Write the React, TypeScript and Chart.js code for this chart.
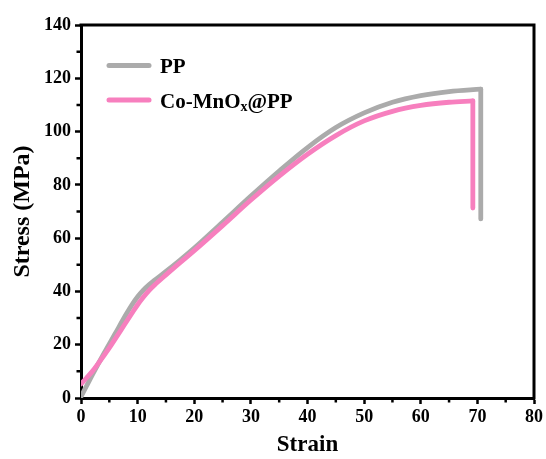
import React, { useEffect, useRef } from "react";
import { Chart, registerables } from "chart.js";

Chart.register(...registerables);

// ---- data ----
const ppStrain = [0, 1, 2, 4, 6, 8, 9, 10, 11, 12, 13, 15, 17.5, 20, 25, 30, 35, 40, 45, 50, 55, 60, 65, 70.6];
const ppStress = [0.5, 4.6, 8.7, 16.5, 24, 31.5, 35, 38, 40.5, 42.5, 44.2, 47.5, 51.8, 56.3, 66, 75.8, 85.2, 94, 101.5, 107, 111, 113.5, 115, 115.9];
const ppDropStrain = [70.6, 70.6];
const ppDropStress = [115.9, 67.2];

const coStrain = [0, 1, 2, 3, 5, 7, 9, 10, 11, 12, 13, 15, 17.5, 20, 25, 30, 35, 40, 45, 50, 55, 60, 65, 69.2];
const coStress = [5.3, 7.6, 10, 12.8, 18.8, 25.3, 31.8, 35, 37.8, 40.3, 42.4, 46.2, 50.8, 55.3, 64.7, 74.3, 83.3, 91.5, 98.5, 104, 107.6, 109.8, 111, 111.5];
const coDropStrain = [69.2, 69.2];
const coDropStress = [111.5, 71.3];

const xTicks = [0, 10, 20, 30, 40, 50, 60, 70, 80];
const yTicks = [0, 20, 40, 60, 80, 100, 120, 140];
const xMinor = [5, 15, 25, 35, 45, 55, 65, 75];
const yMinor = [10, 30, 50, 70, 90, 110, 130];

const seriesNames = ["PP", "Co-MnO", "x", "@PP"];

const PP_COLOR = "#ababab";
const CO_COLOR = "#f77fbe";
const FONT = "'Liberation Serif', 'Times New Roman', serif";

const zip = (xs: number[], ys: number[]) => xs.map((x, i) => ({ x, y: ys[i] }));

const framePlugin = {
  id: "frameAndMinor",
  afterDraw(chart: any) {
    const { ctx, chartArea } = chart;
    const xs = chart.scales.x;
    const ys = chart.scales.y;
    ctx.save();
    ctx.strokeStyle = "#000";
    ctx.lineWidth = 3;
    ctx.beginPath();
    ctx.moveTo(chartArea.left - 1.5, chartArea.top);
    ctx.lineTo(chartArea.right, chartArea.top);
    ctx.lineTo(chartArea.right, chartArea.bottom + 1.5);
    ctx.stroke();
    // minor ticks
    ctx.lineWidth = 2.5;
    ctx.beginPath();
    xMinor.forEach((v) => {
      const px = xs.getPixelForValue(v);
      ctx.moveTo(px, chartArea.bottom);
      ctx.lineTo(px, chartArea.bottom + 4.5);
    });
    yMinor.forEach((v) => {
      const py = ys.getPixelForValue(v);
      ctx.moveTo(chartArea.left, py);
      ctx.lineTo(chartArea.left - 4.5, py);
    });
    ctx.stroke();

    // legend
    const lx = chartArea.left + 28;
    const ly1 = chartArea.top + 40.5;
    const ly2 = chartArea.top + 75;
    ctx.lineCap = "round";
    ctx.lineWidth = 5;
    ctx.strokeStyle = PP_COLOR;
    ctx.beginPath();
    ctx.moveTo(lx, ly1);
    ctx.lineTo(lx + 40, ly1);
    ctx.stroke();
    ctx.strokeStyle = CO_COLOR;
    ctx.beginPath();
    ctx.moveTo(lx, ly2);
    ctx.lineTo(lx + 40, ly2);
    ctx.stroke();

    ctx.fillStyle = "#000";
    ctx.textBaseline = "alphabetic";
    ctx.textAlign = "left";
    const tx = lx + 51;
    ctx.font = `bold 21px ${FONT}`;
    ctx.fillText(seriesNames[0], tx, ly1 + 7.5);
    ctx.fillText(seriesNames[1], tx, ly2 + 7.5);
    const w1 = ctx.measureText(seriesNames[1]).width;
    ctx.font = `bold 14px ${FONT}`;
    ctx.fillText(seriesNames[2], tx + w1, ly2 + 11);
    const w2 = ctx.measureText(seriesNames[2]).width;
    ctx.font = `bold 21px ${FONT}`;
    ctx.fillText(seriesNames[3], tx + w1 + w2, ly2 + 7.5);
    ctx.restore();
  },
};

export default function App() {
  const ref = useRef<HTMLCanvasElement | null>(null);
  useEffect(() => {
    if (!ref.current) return;
    const common = {
      pointRadius: 0,
      borderWidth: 4.8,
      borderCapStyle: "round" as const,
      borderJoinStyle: "round" as const,
      fill: false,
    };
    const chart = new Chart(ref.current, {
      type: "line",
      data: {
        datasets: [
          { ...common, label: "PP", data: zip(ppStrain, ppStress), borderColor: PP_COLOR, cubicInterpolationMode: "monotone", order: 3 },
          { ...common, label: "PP drop", data: zip(ppDropStrain, ppDropStress), borderColor: PP_COLOR, tension: 0, order: 2 },
          { ...common, label: "Co-MnOx@PP", data: zip(coStrain, coStress), borderColor: CO_COLOR, cubicInterpolationMode: "monotone", order: 1 },
          { ...common, label: "Co drop", data: zip(coDropStrain, coDropStress), borderColor: CO_COLOR, tension: 0, order: 0 },
        ] as any,
      },
      options: {
        animation: false,
        responsive: false,
        layout: { padding: { left: 0, right: 10, top: 25, bottom: 0 } },
        plugins: { legend: { display: false }, tooltip: { enabled: false } },
        scales: {
          x: {
            type: "linear",
            min: 0,
            max: 80,
            afterBuildTicks: (s: any) => {
              s.ticks = xTicks.map((v) => ({ value: v }));
            },
            afterFit: (s: any) => {
              s.height = 61;
            },
            ticks: { color: "#000", font: { family: FONT, size: 18, weight: "bold" }, padding: 3, maxRotation: 0 },
            grid: { drawOnChartArea: false, drawTicks: true, tickLength: 6, tickWidth: 2.5, tickColor: "#000" },
            border: { display: true, color: "#000", width: 3 },
            title: { display: true, text: "Strain", color: "#000", font: { family: FONT, size: 23, weight: "bold" }, padding: { top: 0, bottom: 0 } },
          },
          y: {
            type: "linear",
            min: 0,
            max: 140,
            afterBuildTicks: (s: any) => {
              s.ticks = yTicks.map((v) => ({ value: v }));
            },
            afterFit: (s: any) => {
              s.width = 81;
            },
            ticks: { color: "#000", font: { family: FONT, size: 18, weight: "bold" }, padding: 4 },
            grid: { drawOnChartArea: false, drawTicks: true, tickLength: 6, tickWidth: 2.5, tickColor: "#000" },
            border: { display: true, color: "#000", width: 3 },
            title: { display: true, text: "Stress (MPa)", color: "#000", font: { family: FONT, size: 24, weight: "bold" }, padding: { top: 8, bottom: 0 } },
          },
        },
      },
      plugins: [framePlugin],
    } as any);
    return () => chart.destroy();
  }, []);
  return (
    <div style={{ position: "absolute", left: 0, top: 0, width: 546, height: 459, background: "#fff" }}>
      <canvas ref={ref} width={546} height={459} />
    </div>
  );
}
